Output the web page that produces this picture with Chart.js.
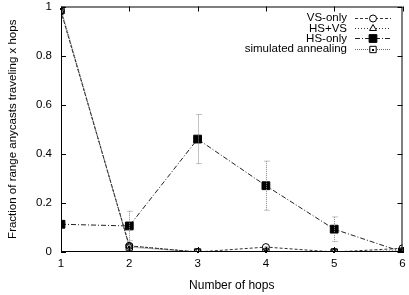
<!DOCTYPE html>
<html>
<head>
<meta charset="utf-8">
<script src="https://cdn.jsdelivr.net/npm/chart.js@4"></script>
<style>
body { margin: 0; background: #fff; }
#wrap { width: 409px; height: 295px; }
</style>
</head>
<body>
<div id="wrap"><canvas id="myChart" width="409" height="295"></canvas></div>
<script>
var hops = [1, 2, 3, 4, 5, 6];
var vsOnly = [0.98, 0.025, 0.0, 0.02, 0.0, 0.015];
var hsVs = [0.98, 0.025, 0.0, 0.0, 0.0, 0.005];
var hsOnly = [0.113, 0.106, 0.46, 0.27, 0.093, 0.0];
var hsOnlyErr = [0.0, 0.06, 0.1, 0.1, 0.05, 0.0];
var annealing = [0.99, 0.02, 0.0, 0.0, 0.0, 0.0];
var xTicks = [1, 2, 3, 4, 5, 6];
var yTicks = [0, 0.2, 0.4, 0.6, 0.8, 1];

var FONT = "'Liberation Sans', Arial, sans-serif";

function pts(vals) {
	var out = [];
	for (var i = 0; i < hops.length; i++) {
		out.push({ x: hops[i], y: vals[i] });
	}
	return out;
}

var series = [
	{ label: 'VS-only', data: vsOnly, dash: [3, 2], style: 'circle', size: 3.5, fill: false, color: '#333' },
	{ label: 'HS+VS', data: hsVs, dash: [1, 2], style: 'triangle', size: 4, fill: false, color: '#333' },
	{ label: 'HS-only', data: hsOnly, dash: [5, 2, 1, 2], style: 'rect', size: 5.5, fill: true, color: '#222' },
	{ label: 'simulated annealing', data: annealing, dash: [1, 1], style: 'rect', size: 4.5, fill: false, color: '#666' }
];

// error bars, border, inward ticks and the key, all placed with the chart's scales
var gnuplotBits = {
	id: 'gnuplotBits',
	afterDatasetsDraw: function(chart) {
		var ctx = chart.ctx;
		var xs = chart.scales.x, ys = chart.scales.y;
		var a = chart.chartArea;
		ctx.save();

		ctx.strokeStyle = '#888';
		ctx.lineWidth = 1;
		ctx.setLineDash([1, 1]);
		for (var i = 0; i < hops.length; i++) {
			if (!hsOnlyErr[i]) continue;
			var px = Math.round(xs.getPixelForValue(hops[i])) + 0.5;
			var top = ys.getPixelForValue(hsOnly[i] + hsOnlyErr[i]);
			var bot = ys.getPixelForValue(hsOnly[i] - hsOnlyErr[i]);
			ctx.beginPath();
			ctx.moveTo(px, top); ctx.lineTo(px, bot);
			ctx.moveTo(px - 2, top); ctx.lineTo(px + 3, top);
			ctx.moveTo(px - 2, bot); ctx.lineTo(px + 3, bot);
			ctx.stroke();
		}
		ctx.setLineDash([]);

		// dot inside the annealing boxes
		ctx.fillStyle = '#000';
		chart.getDatasetMeta(3).data.forEach(function(p) {
			ctx.fillRect(Math.round(p.x) - 1, Math.round(p.y) - 1, 2, 2);
		});

		ctx.strokeStyle = '#000';
		ctx.lineWidth = 1;
		ctx.strokeRect(a.left + 0.5, a.top + 0.5, a.right - a.left - 1, a.bottom - a.top - 1);
		ctx.beginPath();
		xTicks.forEach(function(t) {
			var px = Math.round(xs.getPixelForValue(t)) + 0.5;
			ctx.moveTo(px, a.bottom); ctx.lineTo(px, a.bottom - 5);
			ctx.moveTo(px, a.top); ctx.lineTo(px, a.top + 5);
		});
		yTicks.forEach(function(t) {
			var py = Math.round(ys.getPixelForValue(t)) + 0.5;
			ctx.moveTo(a.left, py); ctx.lineTo(a.left + 5, py);
			ctx.moveTo(a.right, py); ctx.lineTo(a.right - 5, py);
		});
		ctx.stroke();

		// key
		ctx.font = '11.5px ' + FONT;
		ctx.textAlign = 'right';
		ctx.textBaseline = 'middle';
		for (var k = 0; k < series.length; k++) {
			var s = series[k];
			var y = 17.5 + k * 10.4;
			ctx.fillStyle = '#000';
			ctx.fillText(s.label, 347, y + 0.5);
			ctx.strokeStyle = s.color;
			ctx.setLineDash(s.dash);
			ctx.beginPath();
			ctx.moveTo(355, Math.round(y) + 0.5); ctx.lineTo(391, Math.round(y) + 0.5);
			ctx.stroke();
			ctx.setLineDash([]);
			ctx.strokeStyle = '#000';
			ctx.fillStyle = s.fill ? '#000' : '#fff';
			Chart.helpers.drawPoint(ctx, {
				pointStyle: s.style, radius: s.size, rotation: 0, borderWidth: 1
			}, 373, Math.round(y) + 0.5);
			if (k == 3) ctx.fillStyle = '#000', ctx.fillRect(372, Math.round(y), 2, 2);
		}
		ctx.restore();
	}
};

var ctx = document.getElementById("myChart");
var myChart = new Chart(ctx, {
	type: 'line',
	data: {
		datasets: series.map(function(s) {
			return {
				label: s.label,
				data: pts(s.data),
				borderColor: s.color,
				borderWidth: 1,
				borderDash: s.dash,
				pointStyle: s.style,
				pointRadius: s.size,
				pointBorderWidth: 1,
				pointBorderColor: '#000',
				pointBackgroundColor: s.fill ? '#000' : 'rgba(255,255,255,0)',
				fill: false,
				tension: 0
			};
		})
	},
	options: {
		responsive: false,
		animation: false,
		devicePixelRatio: 1,
		layout: { padding: 0 },
		plugins: {
			legend: { display: false },
			tooltip: { enabled: false }
		},
		scales: {
			x: {
				type: 'linear',
				min: 1, max: 6,
				afterFit: function(sc) { sc.height = 43; sc.paddingLeft = 0; sc.paddingRight = 6; },
				afterBuildTicks: function(sc) { sc.ticks = xTicks.map(function(v) { return { value: v }; }); },
				grid: { display: false, drawTicks: false },
				border: { display: false },
				ticks: { color: '#000', font: { family: FONT, size: 11.5, lineHeight: 1 }, padding: 6 },
				title: { display: true, text: 'Number of hops', color: '#000', font: { family: FONT, size: 12 }, padding: { top: 0, bottom: 2 } }
			},
			y: {
				min: 0, max: 1,
				afterFit: function(sc) { sc.width = 61; sc.paddingTop = 5; sc.paddingBottom = 0; },
				afterBuildTicks: function(sc) { sc.ticks = yTicks.map(function(v) { return { value: v }; }); },
				grid: { display: false, drawTicks: false },
				border: { display: false },
				ticks: { color: '#000', font: { family: FONT, size: 11.5, lineHeight: 1 }, padding: 9,
					callback: function(v) { return String(Math.round(v * 10) / 10); } },
				title: { display: true, text: 'Fraction of range anycasts traveling x hops', color: '#000', font: { family: FONT, size: 11.5 }, padding: { top: 6, bottom: 0 } }
			}
		}
	},
	plugins: [gnuplotBits]
});
</script>
</body>
</html>
